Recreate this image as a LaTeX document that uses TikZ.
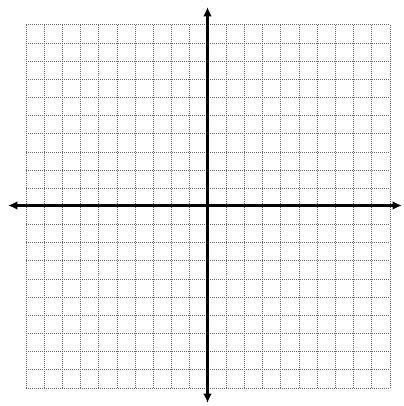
\documentclass[tikz,border=0pt]{standalone}
\usetikzlibrary{arrows.meta}
\tikzset{
  gridline/.style={draw=black!60, line width=0.75pt, dash pattern=on 0.6pt off 0.9pt},
  axisline/.style={draw=black, line width=2.3pt, {Latex[length=7pt,width=6.5pt]}-{Latex[length=7pt,width=6.5pt]}}
}
\begin{document}
\begin{tikzpicture}[x=0.75pt,y=-0.75pt]
\useasboundingbox (0,0) rectangle (403,406);
\foreach \i in {0,...,20} {
  \draw[gridline] ({26+\i*18.2},25) -- ({26+\i*18.2},388);
  \draw[gridline] (26,{25+\i*18.15}) -- (390,{25+\i*18.15});
}
\coordinate (left) at (8,205.5);
\coordinate (right) at (402,205.5);
\coordinate (top) at (207.5,7);
\coordinate (bottom) at (207.5,403);
\draw[axisline] (left) -- (right);
\draw[axisline] (top) -- (bottom);
\end{tikzpicture}
\end{document}
